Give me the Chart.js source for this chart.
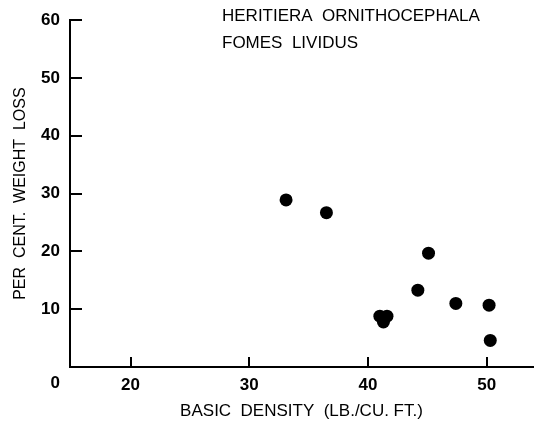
<!DOCTYPE html>
<html lang="en">
<head>
<meta charset="UTF-8">
<style>
  html, body { margin: 0; padding: 0; background: #fff; }
  #lossChart { display: block; }
</style>
</head>
<body>
<canvas id="lossChart" width="543" height="424"></canvas>
<script src="https://cdn.jsdelivr.net/npm/chart.js"></script>
<script>
  // basic density (lb/cu ft) vs per cent weight loss
  const density = [33.1, 36.5, 41.0, 41.6, 41.3, 44.2, 45.1, 47.4, 50.2, 50.3];
  const weightLoss = [28.9, 26.7, 8.8, 8.8, 7.8, 13.3, 19.7, 11.0, 10.7, 4.6];
  const xTicks = [20, 30, 40, 50];
  const yTicks = [10, 20, 30, 40, 50, 60];
  const titleLines = ["HERITIERA  ORNITHOCEPHALA", "FOMES  LIVIDUS"];
  const originLabel = "0";

  const FONT = "'Liberation Sans', Arial, sans-serif";

  // inward tick marks, the origin label and the two-line heading
  const decorations = {
    id: "decorations",
    afterDraw(chart) {
      const ctx = chart.ctx;
      const xs = chart.scales.x;
      const ys = chart.scales.y;
      ctx.save();
      ctx.strokeStyle = "#000";
      ctx.lineWidth = 2;
      ctx.beginPath();
      xTicks.forEach(v => {
        const px = Math.round(xs.getPixelForValue(v));
        ctx.moveTo(px, ys.bottom);
        ctx.lineTo(px, ys.bottom - 10);
      });
      yTicks.forEach(v => {
        const py = Math.round(ys.getPixelForValue(v));
        ctx.moveTo(xs.left, py);
        ctx.lineTo(xs.left + 12, py);
      });
      ctx.stroke();

      ctx.fillStyle = "#000";
      ctx.font = "bold 17px " + FONT;
      ctx.textAlign = "right";
      ctx.textBaseline = "middle";
      ctx.fillText(originLabel, xs.left - 10, ys.bottom + 16);

      ctx.font = "17px " + FONT;
      ctx.textAlign = "left";
      titleLines.forEach((line, i) => {
        ctx.fillText(line, 222, 16 + i * 27);
      });
      ctx.restore();
    }
  };

  const points = density.map((d, i) => ({ x: d, y: weightLoss[i] }));

  new Chart(document.getElementById("lossChart"), {
    type: "scatter",
    data: {
      datasets: [{
        data: points,
        backgroundColor: "#000",
        borderColor: "#000",
        borderWidth: 0,
        pointRadius: 6.5,
        pointHoverRadius: 6.5
      }]
    },
    options: {
      responsive: false,
      animation: false,
      layout: { padding: { top: 13, right: 10, left: 0, bottom: 0 } },
      plugins: {
        legend: { display: false },
        tooltip: { enabled: false }
      },
      scales: {
        x: {
          type: "linear",
          min: 14.9,
          max: 53.9,
          afterBuildTicks: s => { s.ticks = xTicks.map(v => ({ value: v })); },
          afterFit: s => { s.height = 57; },
          grid: { display: false, drawTicks: false },
          border: { display: true, color: "#000", width: 2 },
          ticks: {
            padding: 8,
            color: "#000",
            font: { family: FONT, size: 17, weight: "bold" }
          },
          title: {
            display: true,
            text: "BASIC  DENSITY  (LB./CU. FT.)",
            color: "#000",
            font: { family: FONT, size: 17 },
            padding: { top: 0, bottom: 2 }
          }
        },
        y: {
          type: "linear",
          min: 0,
          max: 60,
          afterBuildTicks: s => { s.ticks = yTicks.map(v => ({ value: v })); },
          afterFit: s => { s.width = 70; },
          grid: { display: false, drawTicks: false },
          border: { display: true, color: "#000", width: 2 },
          ticks: {
            padding: 10,
            color: "#000",
            font: { family: FONT, size: 17, weight: "bold" }
          },
          title: {
            display: true,
            text: "PER  CENT.  WEIGHT  LOSS",
            color: "#000",
            font: { family: FONT, size: 16 },
            padding: { top: 11, bottom: 0 }
          }
        }
      }
    },
    plugins: [decorations]
  });
</script>
</body>
</html>
